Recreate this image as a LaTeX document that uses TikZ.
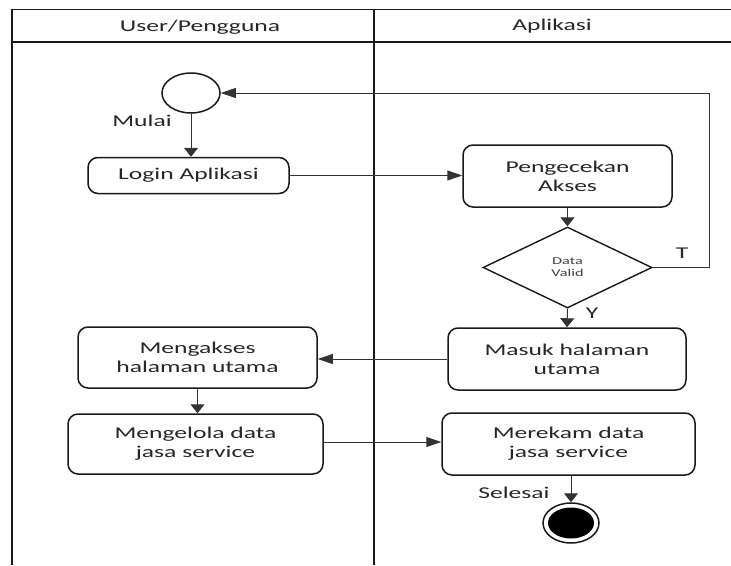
\documentclass[tikz,border=0pt]{standalone}
\usepackage{fontspec}
\setmainfont{Carlito}[FakeStretch=1.55]
\usetikzlibrary{shapes.geometric,arrows.meta}
\begin{document}
\begin{tikzpicture}[x=1pt,y=-1pt,
  lane/.style={line width=2.2pt,black!90},
  lanetop/.style={line width=1.6pt,black!90},
  actbox/.style={draw=black!90,line width=1.5pt,rounded corners=10pt,
    align=center,inner sep=0pt,font=\fontsize{16.5}{19}\selectfont,text=black!85},
  decision/.style={draw=black!90,line width=1.4pt,diamond,inner sep=0pt,
    minimum width=169pt,minimum height=81pt,align=center,
    font=\fontsize{10.5}{12}\selectfont,text=black!75},
  startnode/.style={draw=black!90,line width=1.5pt,ellipse,minimum width=58pt,minimum height=40pt,inner sep=0pt},
  endnode/.style={draw=black!90,line width=1.5pt,ellipse,minimum width=56pt,minimum height=40pt,inner sep=0pt},
  lbl/.style={font=\fontsize{16.5}{19}\selectfont,text=black!85,inner sep=0pt},
  flow/.style={line width=1pt,black!80},
  harr/.style={flow,-{Triangle[length=15pt,width=10pt]}},
  varr/.style={flow,-{Triangle[length=9pt,width=14pt]}}]

\useasboundingbox (0,0) rectangle (731,565);

% swimlane frame
\draw[lanetop] (12,9.5) -- (731,9.5);
\draw[lanetop] (12,42) -- (731,42);
\draw[lane] (12,8.5) -- (12,565);
\draw[lane] (374,8.5) -- (374,565);
\node[lbl] (laneuser) at (200,27) {User/Pengguna};
\node[lbl] (laneapp) at (552,26) {Aplikasi};

% activities
\node[startnode] (start) at (191,93) {};
\node[lbl] (mulai) at (142,121) {Mulai};
\node[actbox,minimum width=201pt,minimum height=36pt] (login) at (188.5,175.5) {Login Aplikasi};
\node[actbox,minimum width=209pt,minimum height=62pt] (cek) at (567.5,176) {Pengecekan\\Akses};
\node[decision] (valid) at (567.5,267.5) {Data\\Valid};
\node[lbl] (tlabel) at (682,253) {T};
\node[lbl] (ylabel) at (592,313) {Y};
\node[actbox,minimum width=238pt,minimum height=62pt] (masuk) at (567,359) {Masuk halaman\\utama};
\node[actbox,minimum width=239pt,minimum height=61pt] (akses) at (197.5,357.5) {Mengakses\\halaman utama};
\node[actbox,minimum width=255pt,minimum height=60pt] (kelola) at (195.5,444) {Mengelola data\\jasa service};
\node[actbox,minimum width=253pt,minimum height=62pt] (rekam) at (568.5,444) {Merekam data\\jasa service};
\node[lbl] (selesai) at (514,493) {Selesai};
\node[endnode] (stop) at (571,523) {};
\fill[black] (stop.center) ellipse[x radius=23pt,y radius=15.5pt];

% loop-back route
\coordinate (loopa) at (709,267.5);
\coordinate (loopb) at (709,93);

% flows
\draw[varr] (start.south) -- (start.south |- login.north);
\draw[harr] (login.east) -- (cek.west |- login.east);
\draw[varr] (cek.south) -- (valid.north);
\draw[varr] (valid.south) -- (masuk.north);
\draw[harr] (valid.east) -- (loopa) -- (loopb) -- (start.east);
\draw[harr] (masuk.west) -- (akses.east |- masuk.west);
\draw[varr] (akses.south) -- (akses.south |- kelola.north);
\draw[harr] (kelola.east |- 0,442) -- (rekam.west |- 0,442);
\draw[varr] (rekam.south -| stop.north) -- (stop.north);
\end{tikzpicture}
\end{document}
